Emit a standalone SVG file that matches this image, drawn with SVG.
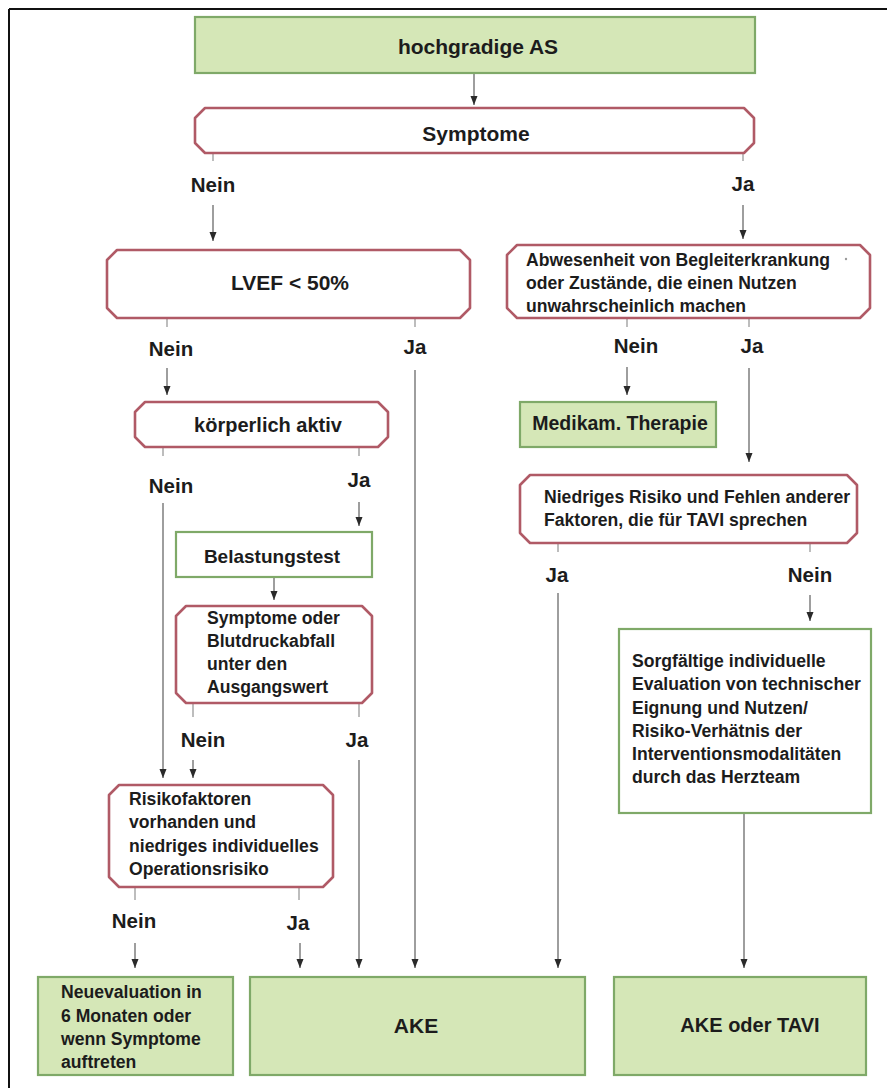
<svg xmlns="http://www.w3.org/2000/svg" width="887" height="1088" viewBox="0 0 887 1088">
<style>
.g{fill:#d5e7b7;stroke:#7fa968;stroke-width:2.2}
.gw{fill:#ffffff;stroke:#7fa968;stroke-width:2.2}
.r{fill:#ffffff;stroke:#b05a66;stroke-width:2.6;stroke-linejoin:round}
text{font-family:"Liberation Sans",Arial,sans-serif;font-weight:bold;fill:#1c1c1c}
.h{font-size:21px;text-anchor:middle}
.m{font-size:17.6px}
.l{font-size:20.5px;text-anchor:middle}
.c{fill:none;stroke:#6a6a6a;stroke-width:1.3}
.s{fill:none;stroke:#9a9a9a;stroke-width:1.3}
</style>
<defs>
<marker id="ah" markerUnits="userSpaceOnUse" markerWidth="10" markerHeight="8" refX="9" refY="3.5" orient="auto">
<path d="M0,0 L9,3.5 L0,7 Z" fill="#2a2a2a"/>
</marker>
</defs>
<rect x="0" y="0" width="887" height="1088" fill="#ffffff"/>
<g id="frame" stroke="#111" stroke-width="2" fill="none">
<line x1="9" y1="9" x2="887" y2="9"/>
<line x1="9" y1="9" x2="9" y2="1088"/>
</g>

<g id="connectors">
<line class="c" x1="474" y1="73" x2="474" y2="105" marker-end="url(#ah)"/>
<line class="s" x1="213" y1="153" x2="213" y2="161"/>
<line class="s" x1="743" y1="153" x2="743" y2="161"/>
<line class="c" x1="213" y1="205" x2="213" y2="241" marker-end="url(#ah)"/>
<line class="c" x1="743" y1="205" x2="743" y2="239" marker-end="url(#ah)"/>
<line class="s" x1="167" y1="318" x2="167" y2="327"/>
<line class="s" x1="415" y1="318" x2="415" y2="327"/>
<line class="c" x1="167" y1="368" x2="167" y2="395" marker-end="url(#ah)"/>
<line class="c" x1="415" y1="370" x2="415" y2="968" marker-end="url(#ah)"/>
<line class="s" x1="163" y1="447" x2="163" y2="456"/>
<line class="s" x1="359" y1="447" x2="359" y2="456"/>
<line class="c" x1="163" y1="503" x2="163" y2="778" marker-end="url(#ah)"/>
<line class="c" x1="359" y1="502" x2="359" y2="526" marker-end="url(#ah)"/>
<line class="c" x1="274" y1="577" x2="274" y2="600" marker-end="url(#ah)"/>
<line class="s" x1="193" y1="703" x2="193" y2="717"/>
<line class="s" x1="359" y1="703" x2="359" y2="717"/>
<line class="c" x1="193" y1="760" x2="193" y2="778" marker-end="url(#ah)"/>
<line class="c" x1="359" y1="760" x2="359" y2="968" marker-end="url(#ah)"/>
<line class="s" x1="135" y1="887" x2="135" y2="900"/>
<line class="s" x1="299" y1="887" x2="299" y2="900"/>
<line class="c" x1="135" y1="943" x2="135" y2="968" marker-end="url(#ah)"/>
<line class="c" x1="300" y1="943" x2="300" y2="968" marker-end="url(#ah)"/>
<line class="s" x1="627" y1="318" x2="627" y2="327"/>
<line class="s" x1="749" y1="318" x2="749" y2="327"/>
<line class="c" x1="627" y1="367" x2="627" y2="395" marker-end="url(#ah)"/>
<line class="c" x1="749" y1="368" x2="749" y2="462" marker-end="url(#ah)"/>
<line class="s" x1="558" y1="543" x2="558" y2="552"/>
<line class="s" x1="810" y1="543" x2="810" y2="552"/>
<line class="c" x1="558" y1="593" x2="558" y2="968" marker-end="url(#ah)"/>
<line class="c" x1="810" y1="595" x2="810" y2="621" marker-end="url(#ah)"/>
<line class="c" x1="744" y1="813" x2="744" y2="968" marker-end="url(#ah)"/>
</g>

<g id="labels">
<text class="l" x="213" y="192">Nein</text>
<text class="l" x="743" y="191">Ja</text>
<text class="l" x="171" y="356">Nein</text>
<text class="l" x="415" y="354">Ja</text>
<text class="l" x="171" y="493">Nein</text>
<text class="l" x="359" y="487">Ja</text>
<text class="l" x="203" y="747">Nein</text>
<text class="l" x="357" y="747">Ja</text>
<text class="l" x="134" y="928">Nein</text>
<text class="l" x="298" y="930">Ja</text>
<text class="l" x="636" y="353">Nein</text>
<text class="l" x="752" y="353">Ja</text>
<text class="l" x="557" y="582">Ja</text>
<text class="l" x="810" y="582">Nein</text>
</g>

<g id="n-hochgradige">
<rect class="g" x="195" y="17" width="560" height="56"/>
<text class="h" x="478" y="54">hochgradige AS</text>
</g>
<g id="n-symptome">
<path class="r" d="M205,108 H744 L754,118 V143 L744,153 H205 L195,143 V118 Z"/>
<text class="h" x="476" y="141">Symptome</text>
</g>
<g id="n-lvef">
<path class="r" d="M117,250 H460 L470,260 V308 L460,318 H117 L107,308 V260 Z"/>
<text class="h" x="290" y="290">LVEF &lt; 50%</text>
</g>
<g id="n-abwesenheit">
<path class="r" d="M517,245 H860 L870,255 V308 L860,318 H517 L507,308 V255 Z"/>
<text class="m" x="526" y="266">Abwesenheit von Begleiterkrankung</text>
<text class="m" x="526" y="289">oder Zustände, die einen Nutzen</text>
<text class="m" x="526" y="312">unwahrscheinlich machen</text>
<circle cx="846" cy="259" r="1.2" fill="#9a9a9a"/>
</g>
<g id="n-koerperlich">
<path class="r" d="M145,402 H378 L388,412 V437 L378,447 H145 L135,437 V412 Z"/>
<text class="h" x="268" y="432" style="font-size:20px">körperlich aktiv</text>
</g>
<g id="n-medikam">
<rect class="g" x="520" y="402" width="196" height="45"/>
<text class="h" x="620" y="430" style="font-size:19.5px">Medikam. Therapie</text>
</g>
<g id="n-belastung">
<rect class="gw" x="176" y="532" width="196" height="45"/>
<text class="h" x="272" y="563" style="font-size:19px">Belastungstest</text>
</g>
<g id="n-niedriges">
<path class="r" d="M530,475 H847 L857,485 V533 L847,543 H530 L520,533 V485 Z"/>
<text class="m" x="544" y="503">Niedriges Risiko und Fehlen anderer</text>
<text class="m" x="544" y="526">Faktoren, die für TAVI sprechen</text>
</g>
<g id="n-symptome-oder">
<path class="r" d="M186,606 H362 L372,616 V693 L362,703 H186 L176,693 V616 Z"/>
<text class="m" x="207" y="624">Symptome oder</text>
<text class="m" x="207" y="647">Blutdruckabfall</text>
<text class="m" x="207" y="670">unter den</text>
<text class="m" x="207" y="693">Ausgangswert</text>
</g>
<g id="n-sorgfaeltige">
<rect class="gw" x="619" y="629" width="252" height="184"/>
<text class="m" x="632" y="667">Sorgfältige individuelle</text>
<text class="m" x="632" y="690">Evaluation von technischer</text>
<text class="m" x="632" y="714">Eignung und Nutzen/</text>
<text class="m" x="632" y="737">Risiko-Verhätnis der</text>
<text class="m" x="632" y="760">Interventionsmodalitäten</text>
<text class="m" x="632" y="783">durch das Herzteam</text>
</g>
<g id="n-risikofaktoren">
<path class="r" d="M119,785 H323 L333,795 V877 L323,887 H119 L109,877 V795 Z"/>
<text class="m" x="129" y="805">Risikofaktoren</text>
<text class="m" x="129" y="828">vorhanden und</text>
<text class="m" x="129" y="852">niedriges individuelles</text>
<text class="m" x="129" y="875">Operationsrisiko</text>
</g>
<g id="n-neuevaluation">
<rect class="g" x="38" y="977" width="195" height="98"/>
<text class="m" x="61" y="998">Neuevaluation in</text>
<text class="m" x="61" y="1022">6 Monaten oder</text>
<text class="m" x="61" y="1045">wenn Symptome</text>
<text class="m" x="61" y="1068">auftreten</text>
</g>
<g id="n-ake">
<rect class="g" x="250" y="977" width="335" height="98"/>
<text class="h" x="416" y="1033">AKE</text>
</g>
<g id="n-ake-tavi">
<rect class="g" x="614" y="977" width="252" height="98"/>
<text class="h" x="750" y="1032" style="font-size:20px">AKE oder TAVI</text>
</g>
</svg>
